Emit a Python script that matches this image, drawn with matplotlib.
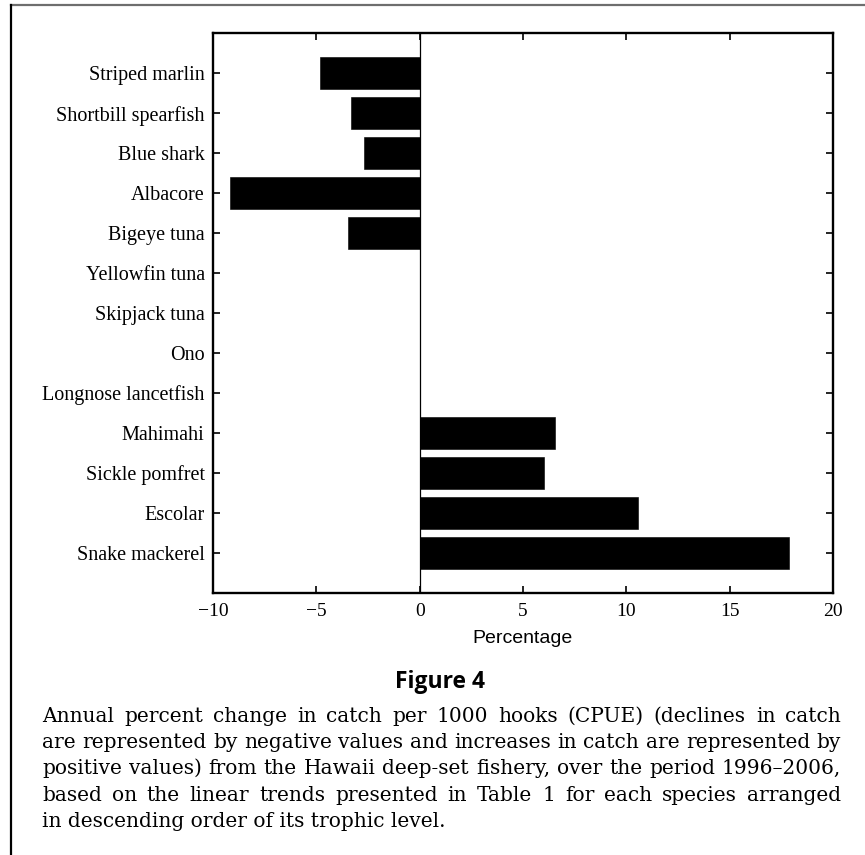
import matplotlib
matplotlib.use("Agg")
import matplotlib.pyplot as plt
from matplotlib.lines import Line2D
import numpy as np

# Species ordered by descending trophic level
species = [
    "Striped marlin", "Shortbill spearfish", "Blue shark", "Albacore",
    "Bigeye tuna", "Yellowfin tuna", "Skipjack tuna", "Ono",
    "Longnose lancetfish", "Mahimahi", "Sickle pomfret", "Escolar",
    "Snake mackerel",
]
# Annual percent change in CPUE, 1996-2006
pct_change = [-4.82, -3.32, -2.71, -9.17, -3.48, 0.0, 0.0, 0.0, 0.0,
              6.56, 6.03, 10.57, 17.89]
x_ticks = [-10, -5, 0, 5, 10, 15, 20]
x_ticklabels = ["\u221210", "\u22125", "0", "5", "10", "15", "20"]

caption_title = "Figure 4"
caption_lines = [
    "Annual percent change in catch per 1000 hooks (CPUE) (declines in catch",
    "are represented by negative values and increases in catch are represented by",
    "positive values) from the Hawaii deep-set fishery, over the period 1996\u20132006,",
    "based on the linear trends presented in Table 1 for each species arranged",
    "in descending order of its trophic level.",
]

W, H, DPI = 865, 855, 100
fig = plt.figure(figsize=(W / DPI, H / DPI), dpi=DPI)
fig.patch.set_facecolor("white")

# axes box in pixel terms
left, right, top, bottom = 213, 833, 33.3, 592.7
ax = fig.add_axes([left / W, 1 - bottom / H, (right - left) / W, (bottom - top) / H])

pos = np.arange(len(species), 0, -1)
ax.barh(pos, pct_change, height=0.8, color="black", edgecolor="black", linewidth=0.4)
ax.axvline(0, color="black", lw=0.9, zorder=3)

ax.set_xlim(-10, 20)
ax.set_ylim(0, 14)
ax.set_yticks(pos)
ax.set_yticklabels(species, fontfamily="Liberation Serif", fontsize=14.5)
ax.set_xticks(x_ticks)
ax.set_xticklabels(x_ticklabels, fontfamily="Liberation Serif", fontsize=14)
ax.tick_params(axis="both", direction="in", length=5, width=1.2,
               top=True, right=True, colors="black")
ax.tick_params(axis="x", pad=7.5)
ax.tick_params(axis="y", pad=6)
for sp in ax.spines.values():
    sp.set_linewidth(1.7)

ax.set_xlabel("Percentage", fontfamily="Liberation Sans", fontsize=14, va="baseline")
ax.xaxis.set_label_coords(0.5, -(643 - bottom) / (bottom - top))

# frame lines of the figure panel
fig.add_artist(Line2D([11 / W, 1.0], [1 - 5 / H, 1 - 5 / H], color="#6e6e6e", lw=1.6))
fig.add_artist(Line2D([11 / W, 11 / W], [0.0, 1 - 5 / H], color="black", lw=1.6))

fig.text(440 / W, 1 - 688 / H, caption_title, fontfamily="Open Sans",
         fontweight="bold", fontsize=16.5, ha="center", va="baseline")

# justified caption
renderer = fig.canvas.get_renderer()
cap_left, cap_right = 42, 841
baselines = [722, 748, 774, 801, 827]
cap_font = dict(fontfamily="DejaVu Serif")


def text_width(s, size):
    t = fig.text(0, 0, s, fontsize=size, **cap_font)
    w = t.get_window_extent(renderer).width
    t.remove()
    return w


size = 15.5
while max(text_width(line, size) for line in caption_lines[:-1]) > (cap_right - cap_left) and size > 8:
    size -= 0.1

for i, line in enumerate(caption_lines):
    y = 1 - baselines[i] / H
    if i == len(caption_lines) - 1:
        fig.text(cap_left / W, y, line, fontsize=size, ha="left", va="baseline", **cap_font)
        continue
    words = line.split(" ")
    widths = [text_width(w_, size) for w_ in words]
    gap = ((cap_right - cap_left) - sum(widths)) / (len(words) - 1)
    x = cap_left
    for w_, wd in zip(words, widths):
        fig.text(x / W, y, w_, fontsize=size, ha="left", va="baseline", **cap_font)
        x += wd + gap

fig.savefig("out.png", dpi=DPI)
